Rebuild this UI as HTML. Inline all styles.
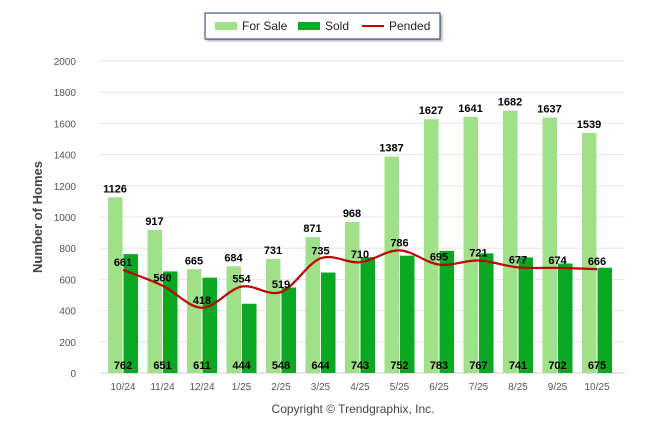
<!DOCTYPE html>
<html><head><meta charset="utf-8"><style>
body{margin:0;background:#fff;width:646px;height:434px;overflow:hidden;font-family:"Liberation Sans",sans-serif}
</style></head><body>
<svg width="646" height="434">
<defs><filter id="sh"><feDropShadow dx="2" dy="2" stdDeviation="1" flood-color="#888" flood-opacity="0.6"/></filter></defs>
<g>
<rect x="205" y="13" width="235" height="26" fill="#fff" stroke="#1f3864" stroke-width="1" filter="url(#sh)"/>
<rect x="215" y="22" width="22" height="8" fill="#a0e088"/><text x="242" y="30" font-size="12" fill="#222">For Sale</text>
<rect x="298" y="22" width="22" height="8" fill="#0aa822"/><text x="325" y="30" font-size="12" fill="#222">Sold</text>
<line x1="362" y1="26" x2="384" y2="26" stroke="#c00000" stroke-width="2"/><text x="389" y="30" font-size="12" fill="#222">Pended</text>
</g>
<text transform="translate(42,217) rotate(-90)" text-anchor="middle" font-size="13" font-weight="bold" fill="#444">Number of Homes</text>
<g id="grid"></g><g id="bars"></g><g id="line"></g><g id="labels"></g>
<text x="353" y="413" text-anchor="middle" font-size="12" fill="#444">Copyright © Trendgraphix, Inc.</text>
</svg>
<script>
const categories=["10/24","11/24","12/24","1/25","2/25","3/25","4/25","5/25","6/25","7/25","8/25","9/25","10/25"];
const forSale=[1126,917,665,684,731,871,968,1387,1627,1641,1682,1637,1539];
const sold=[762,651,611,444,548,644,743,752,783,767,741,702,675];
const pended=[661,560,418,554,519,735,710,786,695,721,677,674,666];
const yTicks=[0,200,400,600,800,1000,1200,1400,1600,1800,2000];
const NS="http://www.w3.org/2000/svg";
const y0=373,yTop=61,x0=100,x1=625;
const y=v=>y0-(v/2000)*(y0-yTop);
const cx=i=>123+i*39.5;
function mk(t,a,p){const e=document.createElementNS(NS,t);for(const k in a)e.setAttribute(k,a[k]);document.getElementById(p).appendChild(e);return e;}
yTicks.forEach(t=>{
 const l=mk('line',{x1:x0,x2:x1,y1:y(t),y2:y(t),stroke:t?'#e6e6e6':'#ccc'},'grid');
 
 
 const tx=mk('text',{x:76,y:y(t)+4,'text-anchor':'end','font-size':10,fill:'#555'},'grid');tx.textContent=t;
 
 
});
categories.forEach((c,i)=>{
 const tx=mk('text',{x:cx(i),y:390,'text-anchor':'middle','font-size':10,fill:'#555'},'grid');tx.textContent=c;
 
 
 const a=mk('rect',{x:cx(i)-15,y:y(forSale[i]),width:14.5,height:y0-y(forSale[i]),fill:'#a0e088'},'bars');
 
 
 const b=mk('rect',{x:cx(i)+0.5,y:y(sold[i]),width:14.5,height:y0-y(sold[i]),fill:'#0aa822'},'bars');
 
 
 const l1=mk('text',{x:cx(i)-8,y:y(forSale[i])-5,'text-anchor':'middle','font-size':11,'font-weight':'bold',fill:'#000'},'labels');l1.textContent=forSale[i];
 
 
 const l2=mk('text',{x:cx(i),y:369,'text-anchor':'middle','font-size':11,'font-weight':'bold',fill:'#000'},'labels');l2.textContent=sold[i];
 
 
 const l3=mk('text',{x:cx(i),y:y(pended[i])-4,'text-anchor':'middle','font-size':11,'font-weight':'bold',fill:'#000'},'labels');l3.textContent=pended[i];
 
 
});
const pts=pended.map((v,i)=>[cx(i),y(v)]);
let d=`M${pts[0][0]},${pts[0][1]}`;
for(let i=0;i<pts.length-1;i++){
 const p0=pts[Math.max(0,i-1)],p1=pts[i],p2=pts[i+1],p3=pts[Math.min(pts.length-1,i+2)];
 const c1=[p1[0]+(p2[0]-p0[0])/6,p1[1]+(p2[1]-p0[1])/6],c2=[p2[0]-(p3[0]-p1[0])/6,p2[1]-(p3[1]-p1[1])/6];
 d+=` C${c1[0]},${c1[1]} ${c2[0]},${c2[1]} ${p2[0]},${p2[1]}`;
}
const ln=mk('path',{d:d,fill:'none',stroke:'#c00000','stroke-width':2.2},'line');


</script>
</body></html>
